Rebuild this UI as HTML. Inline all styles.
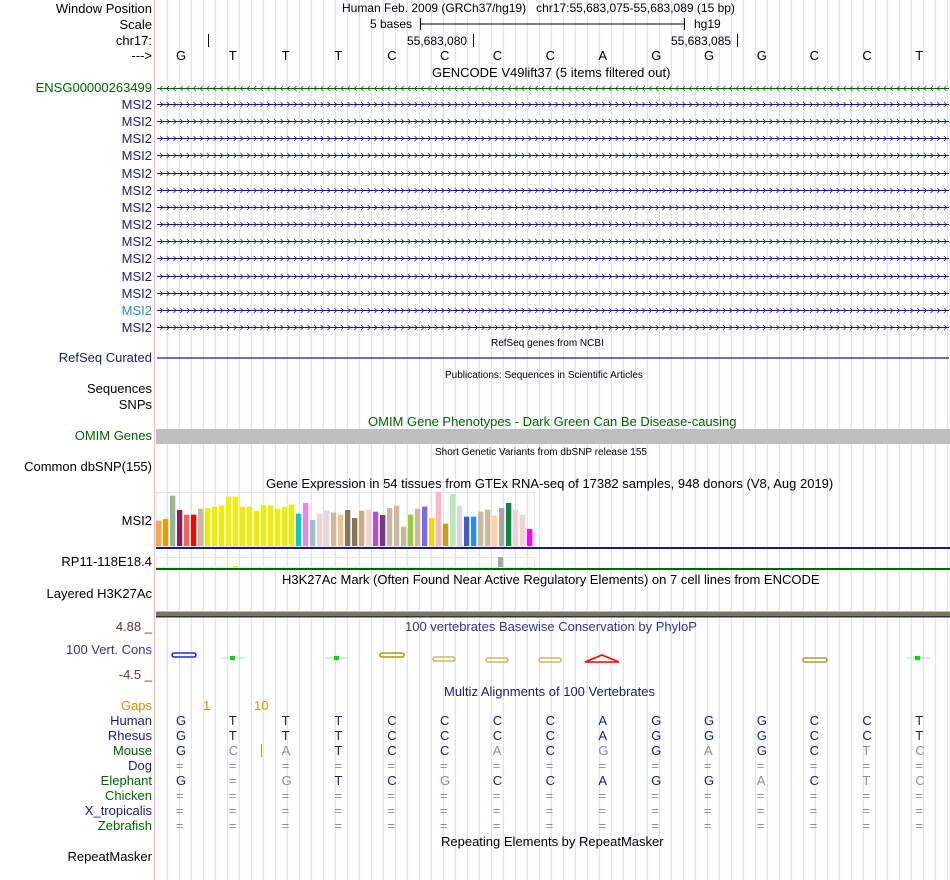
<!DOCTYPE html>
<html><head><meta charset="utf-8">
<style>
body{margin:0;background:#fff;}
#root{position:relative;width:950px;height:880px;overflow:hidden;font-family:"Liberation Sans",sans-serif;font-size:13px;color:#000;}
.l{position:absolute;right:798px;white-space:nowrap;line-height:15px;text-align:right;}
.t{position:absolute;white-space:nowrap;line-height:15px;}
.s{font-size:12px;}
svg{position:absolute;left:0;top:0;}
</style></head><body>
<div id="root">
<svg id="grid" width="950" height="880"></svg>

<div class="l" style="top:1px">Window Position</div>
<div class="l" style="top:17px">Scale</div>
<div class="l" style="top:33px">chr17:</div>
<div class="l" style="top:48px">---&gt;</div>
<div class="l" style="top:80px;color:#006400">ENSG00000263499</div>
<div id="msilabels"></div>
<div class="l" style="top:350px;color:#1a1a80">RefSeq Curated</div>
<div class="l" style="top:381px">Sequences</div>
<div class="l" style="top:397px">SNPs</div>
<div class="l" style="top:428px;color:#006400">OMIM Genes</div>
<div class="l" style="top:459px">Common dbSNP(155)</div>
<div class="l" style="top:513px">MSI2</div>
<div class="l" style="top:554px">RP11-118E18.4</div>
<div class="l" style="top:586px">Layered H3K27Ac</div>
<div class="l" style="top:619px;color:#6b3030">4.88 _</div>
<div class="l" style="top:642px;color:#333399">100 Vert. Cons</div>
<div class="l" style="top:667px;color:#6b3030">-4.5 _</div>
<div class="l" style="top:698px;color:#e08a00">Gaps</div>
<div id="specieslabels"></div>
<div class="l" style="top:849px">RepeatMasker</div>

<div class="t s" style="top:1px;left:342px">Human Feb. 2009 (GRCh37/hg19)&nbsp;&nbsp;&nbsp;chr17:55,683,075-55,683,089 (15 bp)</div>
<div class="t s" style="top:17px;left:370px">5 bases</div>
<div class="t s" style="top:17px;left:694px">hg19</div>
<div class="t s" style="top:34px;left:407px">55,683,080</div>
<div class="t s" style="top:34px;left:671px">55,683,085</div>
<div id="bases"></div>
<div class="t" style="top:65px;left:432px">GENCODE V49lift37 (5 items filtered out)</div>
<div class="t" style="top:336px;left:491px;font-size:10px">RefSeq genes from NCBI</div>
<div class="t" style="top:368px;left:445px;font-size:10px">Publications: Sequences in Scientific Articles</div>
<div class="t" style="top:414px;left:368px;color:#006400">OMIM Gene Phenotypes - Dark Green Can Be Disease-causing</div>
<div class="t" style="top:445px;left:435px;font-size:10px">Short Genetic Variants from dbSNP release 155</div>
<div class="t" style="top:476px;left:266px">Gene Expression in 54 tissues from GTEx RNA-seq of 17382 samples, 948 donors (V8, Aug 2019)</div>
<div class="t" style="top:572px;left:282px">H3K27Ac Mark (Often Found Near Active Regulatory Elements) on 7 cell lines from ENCODE</div>
<div class="t" style="top:619px;left:405px;color:#333399">100 vertebrates Basewise Conservation by PhyloP</div>
<div class="t" style="top:684px;left:444px;color:#1a1a80">Multiz Alignments of 100 Vertebrates</div>
<div class="t" style="top:698px;left:203px;color:#e08a00">1</div>
<div class="t" style="top:698px;left:254px;color:#e08a00">10</div>
<div class="t" style="top:834px;left:441px">Repeating Elements by RepeatMasker</div>
<div id="align"></div>
</div>

<script>
const baseSeq = ["G","T","T","T","C","C","C","C","A","G","G","G","C","C","T"];
const gtexValues = [76,81,151,108,94,94,112,114,118,121,148,148,118,118,105,122,122,112,118,124,97,129,78,97,107,100,94,108,84,106,109,103,93,114,121,58,94,112,118,85,163,67,156,121,88,88,103,109,91,114,129,109,94,51];
const gtexColors = ["#FFA54F","#EE9A00","#8FBC8F","#8B1C62","#EE6A50","#FF0000","#CDB79E","#EEEE00","#EEEE00","#EEEE00","#EEEE00","#EEEE00","#EEEE00","#EEEE00","#EEEE00","#EEEE00","#EEEE00","#EEEE00","#EEEE00","#EEEE00","#00CDCD","#EE82EE","#9AC0CD","#EED5D2","#EED5D2","#CDB79E","#EEC591","#8B7355","#8B7355","#CDAA7D","#EED5D2","#B452CD","#7A378B","#CDB79E","#CDB79E","#CDB79E","#9ACD32","#CDB79E","#7B68EE","#FFD700","#FFB6C1","#CD9B1D","#B4EEB4","#D9D9D9","#3A5FCD","#1E90FF","#CDB79E","#CDB79E","#FFD39B","#A6A6A6","#008B45","#EED5D2","#EED5D2","#FF00FF"];
const species = ["Human","Rhesus","Mouse","Dog","Elephant","Chicken","X_tropicalis","Zebrafish"];
const speciesColors = ["#1a1a80","#1a1a80","#006400","#1a1a80","#006400","#006400","#1a1a80","#006400"];
const alignRows = [
 "GTTTCCCCAGGGCCT",
 "GTTTCCCCAGGGCCT",
 "GCATCCACGGAGCTC",
 "===============",
 "G=GTCGCCAGGACTC",
 "===============",
 "===============",
 "==============="];
const mouseLight = [0,1,1,0,0,0,1,0,1,0,1,0,0,1,1];
const elephLight = [0,1,1,0,0,1,0,0,0,0,0,1,0,1,1];

const NS="http://www.w3.org/2000/svg";
const svg=document.getElementById('grid');
function mk(tag,attrs,name){const e=document.createElementNS(NS,tag);for(const k in attrs)e.setAttribute(k,attrs[k]);


svg.appendChild(e);return e;}
for(let x=167.3;x<950;x+=12){mk('line',{x1:x,x2:x,y1:0,y2:880,stroke:'#d8d8f4','stroke-width':1},'grid-line');}
mk('line',{x1:154.5,x2:154.5,y1:0,y2:880,stroke:'#ffb0b0','stroke-width':1},'separator-line');
mk('line',{x1:420,x2:684,y1:24,y2:24,stroke:'#000'},'scale-bar');
mk('line',{x1:420.5,x2:420.5,y1:18,y2:30,stroke:'#000'},'scale-tick-left');
mk('line',{x1:684.5,x2:684.5,y1:18,y2:30,stroke:'#000'},'scale-tick-right');
mk('line',{x1:208.5,x2:208.5,y1:34,y2:47,stroke:'#000'},'ruler-tick');
mk('line',{x1:473.5,x2:473.5,y1:34,y2:47,stroke:'#000'},'ruler-tick');
mk('line',{x1:737.5,x2:737.5,y1:34,y2:47,stroke:'#000'},'ruler-tick');
const pitch=52.8, x0=180;
const bx=i=>x0+i*pitch;
let bh='';
baseSeq.forEach((b,i)=>{bh+=`<div class="t" style="top:48px;left:${bx(i)-4}px">${b}</div>`;});
document.getElementById('bases').innerHTML=bh;
function geneRow(y,col,dir,name){
 mk('line',{x1:157,x2:949,y1:y+0.5,y2:y+0.5,stroke:col,'stroke-width':1},name);
 let d='';for(let x=160;x<948;x+=6.7){d+=dir>0?`M${x},${y-2}L${x+2.5},${y+0.5}L${x},${y+3}`:`M${x+2.5},${y-2}L${x},${y+0.5}L${x+2.5},${y+3}`;}
 mk('path',{d:d,stroke:col,fill:'none','stroke-width':0.8},name+'-arrows');
}
geneRow(88,'#006400',-1,'ensg-gene');
let ml='';
for(let k=0;k<14;k++){const y=Math.round(104+k*17.15);geneRow(y,'#1a1a80',1,'msi2-gene');
 ml+=`<div class="l" style="top:${y-7}px;color:${k==12?'#2a8ad0':'#1a1a80'}">MSI2</div>`;}
document.getElementById('msilabels').innerHTML=ml;
mk('line',{x1:157,x2:949,y1:358,y2:358,stroke:'#1a1a80','stroke-width':1.2},'refseq-gene');
mk('rect',{x:156,y:429,width:794,height:15,fill:'#bebebe'},'omim-bar');
mk('rect',{x:156.5,y:492.5,width:378,height:54,fill:'none',stroke:'#e6e6e6'},'gtex-frame');
const base=546, yS=v=>base-v/3;
gtexValues.forEach((v,i)=>{const c=gtexColors[i];
 mk('rect',{x:156+i*7,y:yS(v),width:5.3,height:base-yS(v),fill:c},'gtex-bar');});
mk('rect',{x:156,y:547,width:794,height:2,fill:'#1a1a80'},'gtex-baseline');
mk('rect',{x:156.5,y:557.5,width:378,height:10,fill:'none',stroke:'#e6e6e6'},'rp11-frame');
mk('rect',{x:498,y:557,width:5,height:10,fill:'#a6a6a6'},'rp11-bar');
mk('rect',{x:233,y:566,width:5,height:1,fill:'#eeee00'},'rp11-bar');
mk('rect',{x:156,y:568,width:794,height:2,fill:'#006400'},'rp11-baseline');
mk('rect',{x:156,y:611,width:794,height:1,fill:'#f0a0a0'},'h3k-top');
mk('rect',{x:156,y:612,width:794,height:4,fill:'#7a7470'},'h3k-bar');
mk('rect',{x:156,y:616,width:794,height:1.5,fill:'#3a3030'},'h3k-bottom');
const glyph=(x,w,col,name,cy)=>{mk('rect',{x:x-w/2,y:cy-2,width:w,height:4,rx:2,fill:'none',stroke:col,'stroke-width':1.6},name);};
glyph(184,24,'#2020ff','phylop-g',655);glyph(392,24,'#a0a000','phylop-c',655);glyph(444,22,'#c0c060','phylop-c',659);
glyph(497,22,'#c0c060','phylop-c',660);glyph(550,22,'#c0c060','phylop-c',660);glyph(815,24,'#a0a040','phylop-c',660);
mk('path',{d:'M585,662L602,655L619,662Z',fill:'none',stroke:'#ff0000','stroke-width':1.6},'phylop-a');
[[233,'#70c070'],[337,'#70c070'],[918,'#70c070']].forEach(p=>{mk('line',{x1:p[0]-12,x2:p[0]+12,y1:658,y2:658,stroke:'#b0e0b0'},'phylop-tick');mk('rect',{x:p[0]-3,y:656,width:5,height:4,fill:'#00dd00'},'phylop-mark');});
mk('line',{x1:261.5,x2:261.5,y1:744,y2:757,stroke:'#e08a00'},'gap-mark');
let sl='',al='';
species.forEach((s,r)=>{const y=713+r*15;
 sl+=`<div class="l" style="top:${y}px;color:${speciesColors[r]}">${s}</div>`;
 alignRows[r].split('').forEach((c,i)=>{let light=c=='='||(r==2&&mouseLight[i])||(r==4&&elephLight[i]);
  al+=`<div class="t" style="top:${y}px;left:${bx(i)-4}px;color:${light?'#8a8ab8':'#1a1a80'}">${c}</div>`;});
});
document.getElementById('specieslabels').innerHTML=sl;
document.getElementById('align').innerHTML=al;
</script>
</body></html>
